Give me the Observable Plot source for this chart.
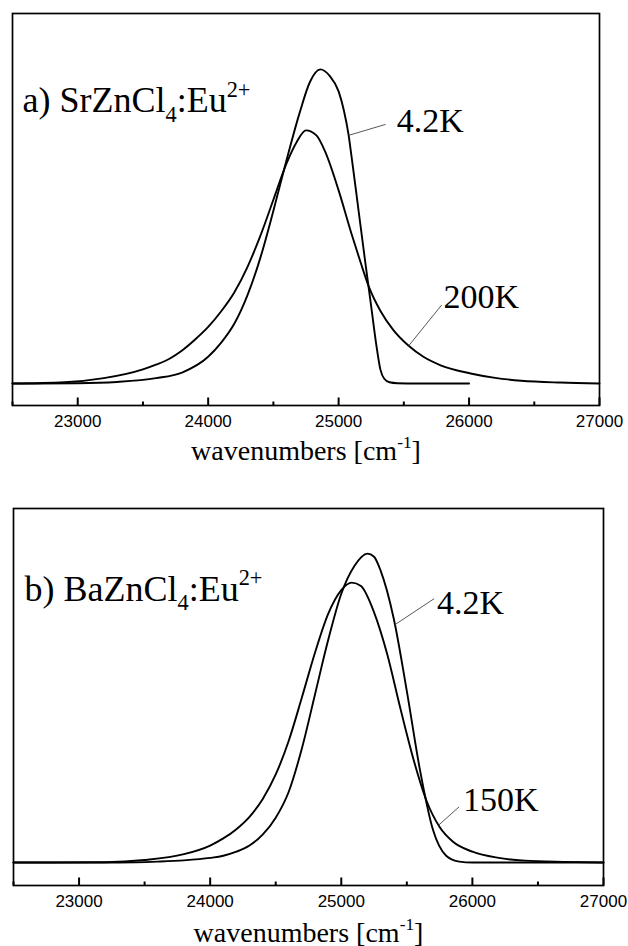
<!DOCTYPE html>
<html><head><meta charset="utf-8">
<script src="https://cdn.jsdelivr.net/npm/d3@7"></script>
<script src="https://cdn.jsdelivr.net/npm/@observablehq/plot@0.6"></script>
<style>
body{margin:0;background:#fff;}
#chart{position:relative;width:628px;height:946px;}
#chart svg{position:absolute;left:0;overflow:visible;}
</style></head><body><div id="chart"></div>
<script>
// ---- tick labels ----
const majorTicks = [23000, 24000, 25000, 26000, 27000];
const minorTicks = [22500, 23500, 24500, 25500, 26500];
const xLabel = "wavenumbers [cm-1]";

// ---- panel a) SrZnCl4:Eu2+ ----
const titleA = "a) SrZnCl4:Eu2+";
const wnA_4K = [22500, 23000, 23300, 23600, 23800, 24000, 24100, 24200, 24300, 24400, 24500, 24600, 24700, 24780, 24860, 24930, 25000, 25040, 25077, 25100, 25150, 25200, 25250, 25290, 25320, 25350, 25390, 25450, 25600, 26000];
const intA_4K = [0, 0.001, 0.005, 0.017, 0.035, 0.085, 0.13, 0.19, 0.28, 0.40, 0.55, 0.71, 0.86, 0.96, 1.0, 0.98, 0.93, 0.87, 0.79, 0.72, 0.56, 0.40, 0.245, 0.12, 0.045, 0.015, 0.004, 0.001, 0, 0];
const wnA_200K = [22500, 22900, 23200, 23500, 23600, 23700, 23800, 23900, 24000, 24100, 24200, 24300, 24400, 24500, 24600, 24680, 24750, 24830, 24900, 25000, 25100, 25169, 25230, 25322, 25420, 25537, 25650, 25782, 26012, 26200, 26400, 26700, 27000];
const intA_200K = [0, 0.004, 0.017, 0.045, 0.06, 0.078, 0.105, 0.14, 0.18, 0.23, 0.29, 0.37, 0.47, 0.585, 0.70, 0.77, 0.806, 0.79, 0.735, 0.615, 0.475, 0.385, 0.31, 0.23, 0.17, 0.12, 0.085, 0.058, 0.032, 0.018, 0.009, 0.003, 0];
const labelTextA = ["4.2K", "200K"];
const labelWnA = [25445, 25805];
const labelIntA = [0.80, 0.242];
const leaderFromWnA = [25360, 25790];
const leaderFromIntA = [0.825, 0.25];
const leaderToWnA = [25077, 25537];
const leaderToIntA = [0.79, 0.12];

// ---- panel b) BaZnCl4:Eu2+ ----
const titleB = "b) BaZnCl4:Eu2+";
const wnB_4K = [22500, 23300, 23600, 23800, 24000, 24100, 24200, 24300, 24400, 24500, 24600, 24700, 24800, 24900, 25000, 25100, 25200, 25250, 25300, 25400, 25500, 25600, 25700, 25800, 25900, 26000, 27000];
const intB_4K = [0, 0, 0.003, 0.007, 0.015, 0.022, 0.035, 0.055, 0.09, 0.145, 0.23, 0.37, 0.545, 0.72, 0.87, 0.96, 1.0, 0.99, 0.945, 0.79, 0.555, 0.30, 0.105, 0.022, 0.003, 0, 0];
const wnB_150K = [22500, 23200, 23500, 23800, 24000, 24100, 24200, 24300, 24400, 24500, 24600, 24700, 24800, 24900, 25000, 25080, 25150, 25250, 25350, 25450, 25550, 25650, 25750, 25850, 26000, 26200, 26400, 26700, 27000];
const intB_150K = [0, 0.001, 0.008, 0.027, 0.055, 0.078, 0.108, 0.148, 0.205, 0.285, 0.395, 0.535, 0.68, 0.805, 0.882, 0.906, 0.895, 0.81, 0.675, 0.50, 0.335, 0.20, 0.115, 0.068, 0.035, 0.015, 0.006, 0.002, 0];
const labelTextB = ["4.2K", "150K"];
const labelWnB = [25730, 25929];
const labelIntB = [0.806, 0.168];
const leaderFromWnB = [25708, 25898];
const leaderFromIntB = [0.854, 0.18];
const leaderToWnB = [25410, 25740];
const leaderToIntB = [0.77, 0.12];

const zip = (w, v) => w.map((x, i) => ({w: x, v: v[i]}));

function rich(el, parts, fs) {
  const sel = d3.select(el);
  sel.text(null);
  let shift = 0;
  for (const p of parts) {
    const t = sel.append("tspan").text(p.t);
    const target = p.sub ? 0.26 * fs : p.sup ? -0.42 * fs : 0;
    t.attr("dy", target - shift);
    shift = target;
    if (p.sub || p.sup) t.attr("font-size", 0.62 * fs);
  }
}

function panel(cfg) {
  const labels = cfg.labelText.map((t, i) => ({t, w: cfg.labelWn[i], v: cfg.labelInt[i]}));
  const leaders = cfg.fromWn.map((w, i) => ({x1: w, y1: cfg.fromInt[i], x2: cfg.toWn[i], y2: cfg.toInt[i]}));
  const frameH = cfg.height - cfg.mt - cfg.mb;
  const perPx = (cfg.yDomain[1] - cfg.yDomain[0]) / frameH;
  const y0 = cfg.yDomain[0];
  const svg = Plot.plot({
    width: 628,
    height: cfg.height,
    marginTop: cfg.mt, marginBottom: cfg.mb, marginLeft: cfg.ml, marginRight: cfg.mr,
    x: {domain: [22500, 27000], axis: null},
    y: {domain: cfg.yDomain, axis: null},
    style: {background: "transparent", overflow: "visible"},
    marks: [
      ...cfg.lines.map(l => Plot.line(zip(l[0], l[1]), {x: "w", y: "v", stroke: "#000", strokeWidth: 1.9, curve: "monotone-x"})),
      Plot.link(leaders, {x1: "x1", y1: "y1", x2: "x2", y2: "y2", stroke: "#444", strokeWidth: 0.9}),
      Plot.text(labels, {x: "w", y: "v", text: "t", textAnchor: "start", lineAnchor: "bottom", fontFamily: "Liberation Serif", fontSize: 34, fill: "#000"}),
      Plot.text([cfg.title], {x: cfg.titleWn, y: cfg.titleInt, text: d => d, textAnchor: "start", lineAnchor: "bottom", fontFamily: "Liberation Serif", fontSize: 36, fill: "#000"}),
      Plot.link(majorTicks, {x1: d => d, x2: d => d, y1: () => y0, y2: () => y0 + 8 * perPx, stroke: "#000", strokeWidth: 2}),
      Plot.link(minorTicks, {x1: d => d, x2: d => d, y1: () => y0, y2: () => y0 + 4 * perPx, stroke: "#000", strokeWidth: 2}),
      Plot.text(majorTicks, {x: d => d, text: d => String(d), frameAnchor: "bottom", lineAnchor: "top", dy: 9, fontFamily: "Liberation Sans", fontSize: 17, fill: "#000"}),
      Plot.frame({stroke: "#000", strokeWidth: 1.7}),
      Plot.text([xLabel], {frameAnchor: "bottom", dy: cfg.xLabelDy, lineAnchor: "bottom", text: d => d, fontFamily: "Liberation Serif", fontSize: 28, fill: "#000"})
    ]
  });
  svg.style.top = cfg.top + "px";
  d3.select(svg).selectAll("text").each(function() {
    const s = this.textContent;
    if (s === cfg.title) {
      const m = cfg.title.match(/^(.*Cl)4(:Eu)(2\+)$/);
      rich(this, [{t: m[1]}, {t: "4", sub: true}, {t: m[2]}, {t: "2+", sup: true}], 36);
    } else if (s === xLabel) {
      rich(this, [{t: "wavenumbers [cm"}, {t: "-1", sup: true}, {t: "]"}], 28);
    }
  });
  document.getElementById("chart").appendChild(svg);
}

panel({
  top: 0, height: 470, mt: 13, mb: 65, ml: 12, mr: 29,
  yDomain: [-0.07, 1.178],
  lines: [[wnA_4K, intA_4K], [wnA_200K, intA_200K]],
  labelText: labelTextA, labelWn: labelWnA, labelInt: labelIntA,
  fromWn: leaderFromWnA, fromInt: leaderFromIntA, toWn: leaderToWnA, toInt: leaderToIntA,
  title: titleA, titleWn: 22577, titleInt: 0.863, xLabelDy: 54
});
panel({
  top: 470, height: 476, mt: 38, mb: 61, ml: 13, mr: 25,
  yDomain: [-0.0744, 1.146],
  lines: [[wnB_4K, intB_4K], [wnB_150K, intB_150K]],
  labelText: labelTextB, labelWn: labelWnB, labelInt: labelIntB,
  fromWn: leaderFromWnB, fromInt: leaderFromIntB, toWn: leaderToWnB, toInt: leaderToIntB,
  title: titleB, titleWn: 22584, titleInt: 0.848, xLabelDy: 56
});
</script></body></html>
